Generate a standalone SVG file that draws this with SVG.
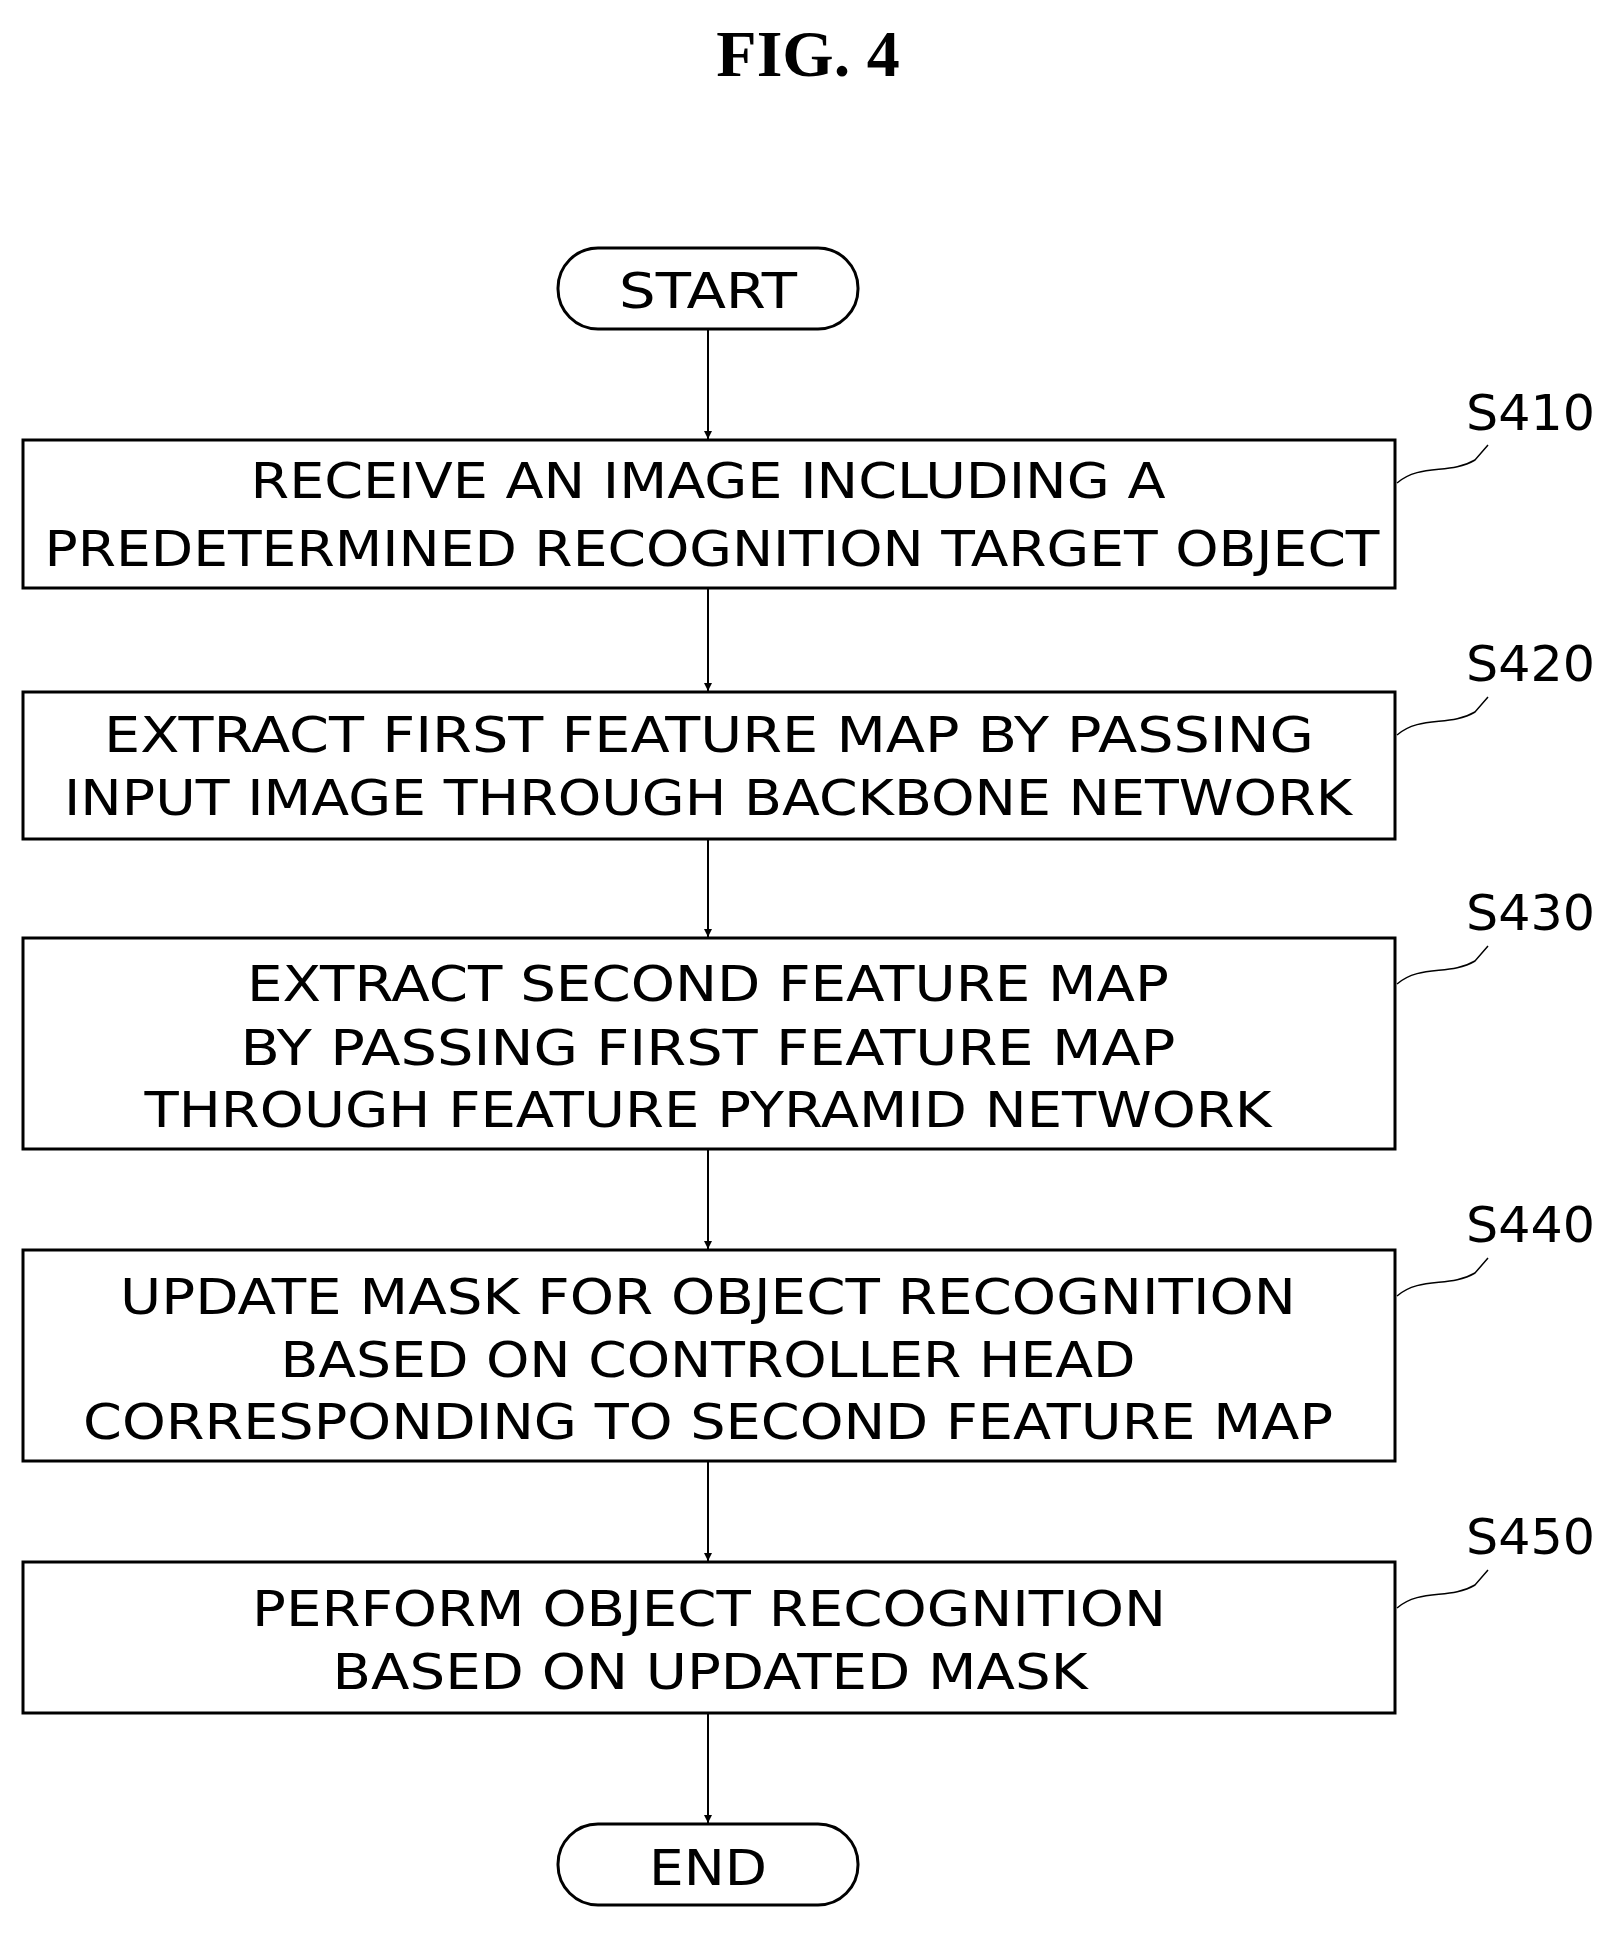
<svg xmlns="http://www.w3.org/2000/svg" width="1615" height="1944" viewBox="0 0 1615 1944">
<defs>
<style>
.b{fill:#fff;stroke:#000;stroke-width:3}
.t{font-family:"DejaVu Sans",sans-serif;font-size:50px;text-anchor:middle;fill:#000}
.l{font-family:"DejaVu Sans",sans-serif;font-size:50px;fill:#000}
.c{stroke:#000;stroke-width:2;fill:none}
.w{stroke:#000;stroke-width:1.5;fill:none}
</style>
<marker id="a" viewBox="0 0 10 10" refX="10" refY="5" markerWidth="8" markerHeight="12" orient="auto" markerUnits="userSpaceOnUse"><path d="M0,0L10,5L0,10z" fill="#000"/></marker>
</defs>
<rect width="1615" height="1944" fill="#fff"/>
<text x="808" y="76" font-family="Liberation Serif,serif" font-size="66" font-weight="bold" text-anchor="middle">FIG. 4</text>
<g id="connectors">
<line class="c" x1="708" y1="329" x2="708" y2="439" marker-end="url(#a)"/>
<line class="c" x1="708" y1="588" x2="708" y2="691" marker-end="url(#a)"/>
<line class="c" x1="708" y1="839" x2="708" y2="937" marker-end="url(#a)"/>
<line class="c" x1="708" y1="1149" x2="708" y2="1249" marker-end="url(#a)"/>
<line class="c" x1="708" y1="1461" x2="708" y2="1561" marker-end="url(#a)"/>
<line class="c" x1="708" y1="1713" x2="708" y2="1823" marker-end="url(#a)"/>
</g>
<g id="start"><rect class="b" x="558" y="248" width="300" height="81" rx="40"/><text class="t" x="708" y="308" textLength="178" lengthAdjust="spacingAndGlyphs">START</text></g>
<g id="s410"><rect class="b" x="23" y="440" width="1372" height="148"/>
<text class="t" x="708" y="498" textLength="915" lengthAdjust="spacingAndGlyphs">RECEIVE AN IMAGE INCLUDING A</text>
<text class="t" x="712" y="566" textLength="1335" lengthAdjust="spacingAndGlyphs">PREDETERMINED RECOGNITION TARGET OBJECT</text>
<path class="w" d="M1397,483 C1420,463 1450,475 1475,460 L1488,445"/>
<text class="l" x="1466" y="430" textLength="129" lengthAdjust="spacingAndGlyphs">S410</text></g>
<g id="s420"><rect class="b" x="23" y="692" width="1372" height="147"/>
<text class="t" x="709" y="752" textLength="1210" lengthAdjust="spacingAndGlyphs">EXTRACT FIRST FEATURE MAP BY PASSING</text>
<text class="t" x="708" y="815" textLength="1288" lengthAdjust="spacingAndGlyphs">INPUT IMAGE THROUGH BACKBONE NETWORK</text>
<path class="w" d="M1397,735 C1420,715 1450,727 1475,712 L1488,697"/>
<text class="l" x="1466" y="681" textLength="129" lengthAdjust="spacingAndGlyphs">S420</text></g>
<g id="s430"><rect class="b" x="23" y="938" width="1372" height="211"/>
<text class="t" x="708" y="1001" textLength="922" lengthAdjust="spacingAndGlyphs">EXTRACT SECOND FEATURE MAP</text>
<text class="t" x="708" y="1065" textLength="935" lengthAdjust="spacingAndGlyphs">BY PASSING FIRST FEATURE MAP</text>
<text class="t" x="708" y="1127" textLength="1127" lengthAdjust="spacingAndGlyphs">THROUGH FEATURE PYRAMID NETWORK</text>
<path class="w" d="M1397,984 C1420,964 1450,976 1475,961 L1488,946"/>
<text class="l" x="1466" y="930" textLength="129" lengthAdjust="spacingAndGlyphs">S430</text></g>
<g id="s440"><rect class="b" x="23" y="1250" width="1372" height="211"/>
<text class="t" x="708" y="1314" textLength="1176" lengthAdjust="spacingAndGlyphs">UPDATE MASK FOR OBJECT RECOGNITION</text>
<text class="t" x="708" y="1377" textLength="855" lengthAdjust="spacingAndGlyphs">BASED ON CONTROLLER HEAD</text>
<text class="t" x="708" y="1439" textLength="1250" lengthAdjust="spacingAndGlyphs">CORRESPONDING TO SECOND FEATURE MAP</text>
<path class="w" d="M1397,1296 C1420,1276 1450,1288 1475,1273 L1488,1258"/>
<text class="l" x="1466" y="1242" textLength="129" lengthAdjust="spacingAndGlyphs">S440</text></g>
<g id="s450"><rect class="b" x="23" y="1562" width="1372" height="151"/>
<text class="t" x="709" y="1626" textLength="914" lengthAdjust="spacingAndGlyphs">PERFORM OBJECT RECOGNITION</text>
<text class="t" x="710" y="1689" textLength="755" lengthAdjust="spacingAndGlyphs">BASED ON UPDATED MASK</text>
<path class="w" d="M1397,1608 C1420,1588 1450,1600 1475,1585 L1488,1570"/>
<text class="l" x="1466" y="1554" textLength="129" lengthAdjust="spacingAndGlyphs">S450</text></g>
<g id="end"><rect class="b" x="558" y="1824" width="300" height="81" rx="40"/><text class="t" x="708" y="1885" textLength="118" lengthAdjust="spacingAndGlyphs">END</text></g>
</svg>
